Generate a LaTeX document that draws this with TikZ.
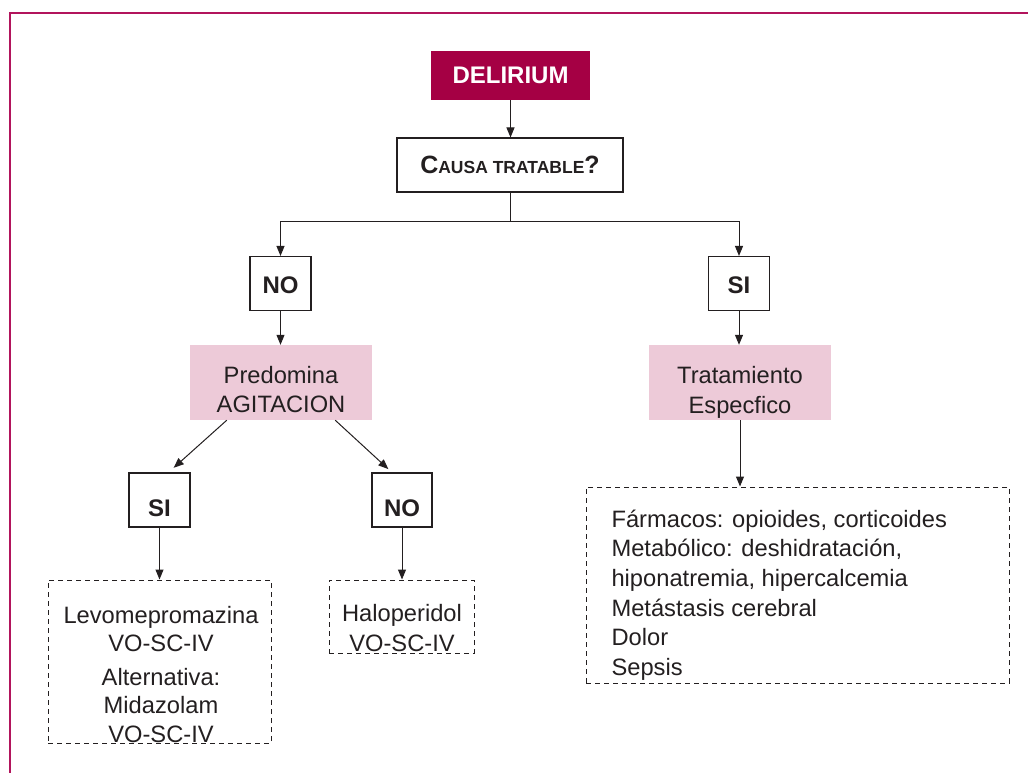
\documentclass[tikz,border=0pt]{standalone}
\usepackage{fontspec}
\setmainfont{Liberation Sans}
\usetikzlibrary{arrows.meta}
\definecolor{framered}{RGB}{178,20,92}
\definecolor{delired}{RGB}{165,0,68}
\definecolor{rosa}{RGB}{237,202,216}
\definecolor{tinta}{RGB}{35,31,32}
\newcommand{\causasc}{{\fontsize{25}{29}\selectfont C}{\fontsize{17.5}{29}\selectfont AUSA TRATABLE}{\fontsize{25}{29}\selectfont ?}}
\newcommand{\bajar}[1]{\rule{0pt}{#1}}
\begin{document}
\begin{tikzpicture}[x=1pt,y=-1pt,
  txt/.style={text=tinta,font=\fontsize{23.7}{29.5}\selectfont},
  caja/.style={draw=tinta,line width=1.1pt,inner sep=0pt,text=tinta,font=\fontsize{24}{29}\selectfont\bfseries},
  rosabox/.style={fill=rosa,inner sep=0pt,align=center,txt,minimum width=182pt,minimum height=75pt},
  dbox/.style={draw=tinta,line width=1pt,dash pattern=on 5pt off 4pt,inner sep=0pt},
  flecha/.style={draw=tinta,line width=1pt,-{Triangle[width=8pt,length=10pt]}}]
\useasboundingbox (0,0) rectangle (1028,773);
\draw[framered,line width=1.5pt] (1028,13) -- (10,13) -- (10,773);
\node[fill=delired,minimum width=159pt,minimum height=49pt,inner sep=0pt,text=white,font=\fontsize{24}{29}\selectfont\bfseries] (delirium) at (510.5,75.5) {DELIRIUM};
\node[caja,minimum width=226pt,minimum height=54pt] (causa) at (510,165) {\causasc};
\node[caja,minimum width=61pt,minimum height=54pt,text height=20pt] (no1) at (280.5,283.5) {NO};
\node[caja,minimum width=61pt,minimum height=54pt,text height=20pt] (si1) at (739,283.5) {SI};
\node[rosabox] (agit) at (281,382.5) {\bajar{31pt}Predomina\\AGITACION};
\node[rosabox] (trat) at (740,382.5) {\bajar{37pt}Tratamiento\\Especfico};
\node[caja,minimum width=61pt,minimum height=54pt,text height=33pt,text depth=0pt] (si2) at (159.5,500) {SI};
\node[caja,minimum width=60pt,minimum height=54pt,text height=33pt,text depth=0pt] (no2) at (402,500) {NO};
\node[dbox,minimum width=223pt,minimum height=163pt] (levo) at (159.5,661.5) {};
\node[dbox,minimum width=145pt,minimum height=73pt] (halo) at (401.5,616.5) {};
\node[dbox,minimum width=423pt,minimum height=196pt] (causas) at (797.5,585) {};
\node[txt,align=center,font=\fontsize{23.7}{28.5}\selectfont] (levotxt) at (161,674.5) {Levomepromazina\\VO-SC-IV\\[5pt]Alternativa:\\Midazolam\\VO-SC-IV};
\node[txt,align=center] (halotxt) at (402,628) {Haloperidol\\VO-SC-IV};
\node[txt,align=left,anchor=west,font=\fontsize{23.7}{29.6}\selectfont] (causastxt) at (608,595) {Fármacos: opioides, corticoides\\Metabólico: deshidratación,\\hiponatremia, hipercalcemia\\Metástasis cerebral\\Dolor\\Sepsis};
\coordinate (rama) at (510,221);
\draw[flecha] (delirium.south) -- (delirium.south |- causa.north);
\draw[tinta,line width=1pt] (causa.south) -- (rama);
\draw[flecha] (rama) -| (no1.north);
\draw[flecha] (rama) -| (si1.north);
\draw[flecha] (no1.south) -- (no1.south |- agit.north);
\draw[flecha] (si1.south) -- (si1.south |- trat.north);
\draw[flecha,shorten >=7pt] ([xshift=37pt]agit.south west) -- ([xshift=9pt]si2.north);
\draw[flecha,shorten >=5pt] ([xshift=-37pt]agit.south east) -- ([xshift=-10pt]no2.north);
\draw[flecha] (si2.south) -- (si2.south |- levo.north);
\draw[flecha] (no2.south) -- (no2.south |- halo.north);
\draw[flecha] (trat.south) -- (trat.south |- causas.north);
\end{tikzpicture}
\end{document}
